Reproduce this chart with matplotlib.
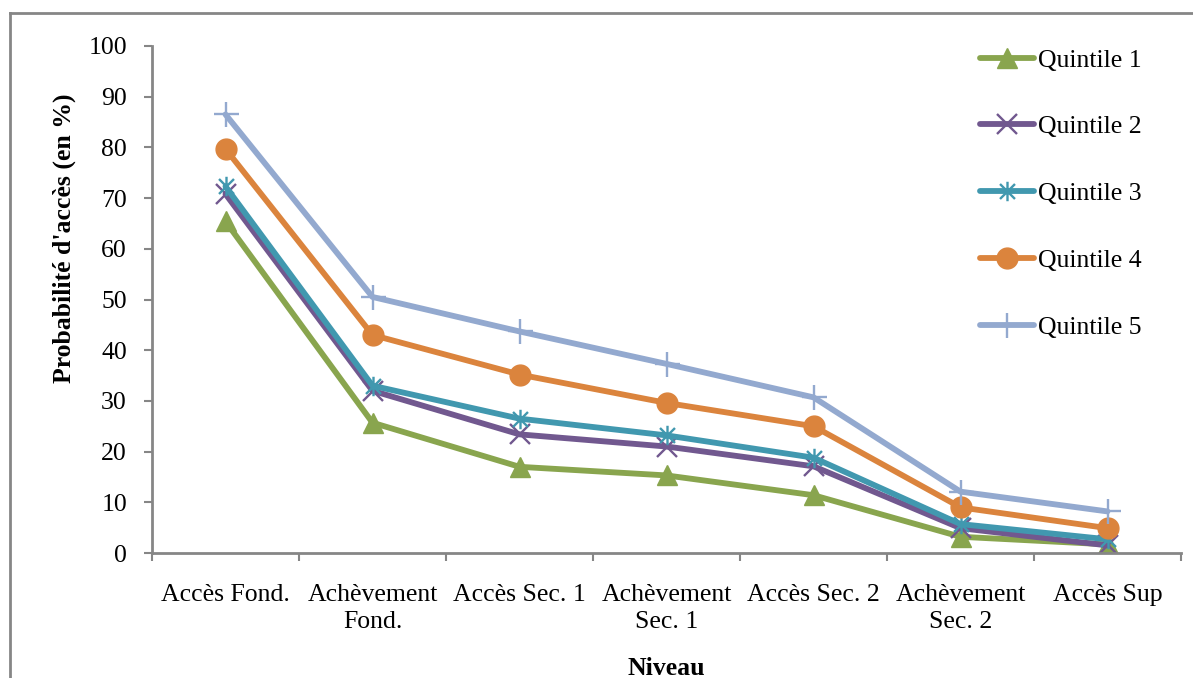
import numpy as np
import matplotlib
matplotlib.use("Agg")
import matplotlib.pyplot as plt
from matplotlib.path import Path
from matplotlib.lines import Line2D

plt.rcParams['font.family'] = ['Liberation Serif', 'DejaVu Serif']

niveaux = ["Accès Fond.", "Achèvement\nFond.", "Accès Sec. 1", "Achèvement\nSec. 1",
           "Accès Sec. 2", "Achèvement\nSec. 2", "Accès Sup"]
quintile_1 = [65.4, 25.7, 17.0, 15.3, 11.4, 3.2, 1.7]
quintile_2 = [70.8, 32.0, 23.4, 21.0, 17.1, 4.9, 1.5]
quintile_3 = [72.3, 33.0, 26.5, 23.2, 18.8, 5.7, 2.7]
quintile_4 = [79.7, 43.0, 35.2, 29.6, 25.0, 9.0, 4.9]
quintile_5 = [86.5, 50.5, 43.7, 37.3, 30.7, 12.1, 8.2]
noms = ["Quintile 1", "Quintile 2", "Quintile 3", "Quintile 4", "Quintile 5"]

# asterisk marker: an x crossed by a vertical bar
etoile = Path([(-1, -1), (1, 1), (-1, 1), (1, -1), (0, -1.3), (0, 1.3)],
              [Path.MOVETO, Path.LINETO, Path.MOVETO, Path.LINETO, Path.MOVETO, Path.LINETO])

styles = [
    dict(color="#89A54E", marker="^", markersize=15),
    dict(color="#71588F", marker="x", markersize=14, markeredgewidth=1.7),
    dict(color="#4198AF", marker=etoile, markersize=14, markeredgewidth=1.7),
    dict(color="#DB843D", marker="o", markersize=15),
    dict(color="#93A9CF", marker="+", markersize=18, markeredgewidth=1.7),
]

fs = 18.5

fig = plt.figure(figsize=(11.93, 6.78), dpi=100)
ax = fig.add_axes([152 / 1193, (678 - 553) / 678, (1181 - 152) / 1193, (553 - 46) / 678])

x = np.arange(len(niveaux))
for serie, nom, st in zip([quintile_1, quintile_2, quintile_3, quintile_4, quintile_5], noms, styles):
    ax.plot(x, serie, linewidth=4.2, label=nom, solid_capstyle="round", **st)

ax.set_xlim(-0.5, len(niveaux) - 0.5)
ax.set_ylim(0, 100)
ax.set_yticks(np.arange(0, 101, 10))

# category boundaries carry the tick marks, names sit in between
ax.set_xticks(np.arange(len(niveaux) + 1) - 0.5)
ax.set_xticklabels([])
ax.set_xticks(x, minor=True)
ax.set_xticklabels(niveaux, minor=True, fontsize=fs, linespacing=1.3)
ax.tick_params(axis="x", which="minor", length=0, pad=22)
ax.tick_params(axis="x", which="major", length=6, width=1.5, color="#868686", direction="out")
ax.tick_params(axis="y", length=6, width=1.5, color="#868686", direction="out", pad=12, labelsize=fs)

for s in ["top", "right"]:
    ax.spines[s].set_visible(False)
for s in ["left", "bottom"]:
    ax.spines[s].set_color("#868686")
    ax.spines[s].set_linewidth(2)

ax.set_ylabel("Probabilité d'accès (en %)", fontsize=fs, fontweight="bold")
ax.yaxis.set_label_coords(-0.074, 0.62)
ax.set_xlabel("Niveau", fontsize=fs, fontweight="bold")
ax.xaxis.set_label_coords(0.5, -0.205)

ax.legend(loc="upper left", bbox_to_anchor=(0.805, 0.995), frameon=False, fontsize=fs,
          borderpad=0, borderaxespad=0, handlelength=2.1, handletextpad=0.15,
          labelspacing=1.71)

# chart frame (left and top edges)
fig.add_artist(Line2D([10 / 1193, 10 / 1193], [0, 1 - 13 / 678], color="#868686", linewidth=2))
fig.add_artist(Line2D([10 / 1193, 1], [1 - 13 / 678, 1 - 13 / 678], color="#868686", linewidth=2))

fig.savefig("out.png", dpi=100)
